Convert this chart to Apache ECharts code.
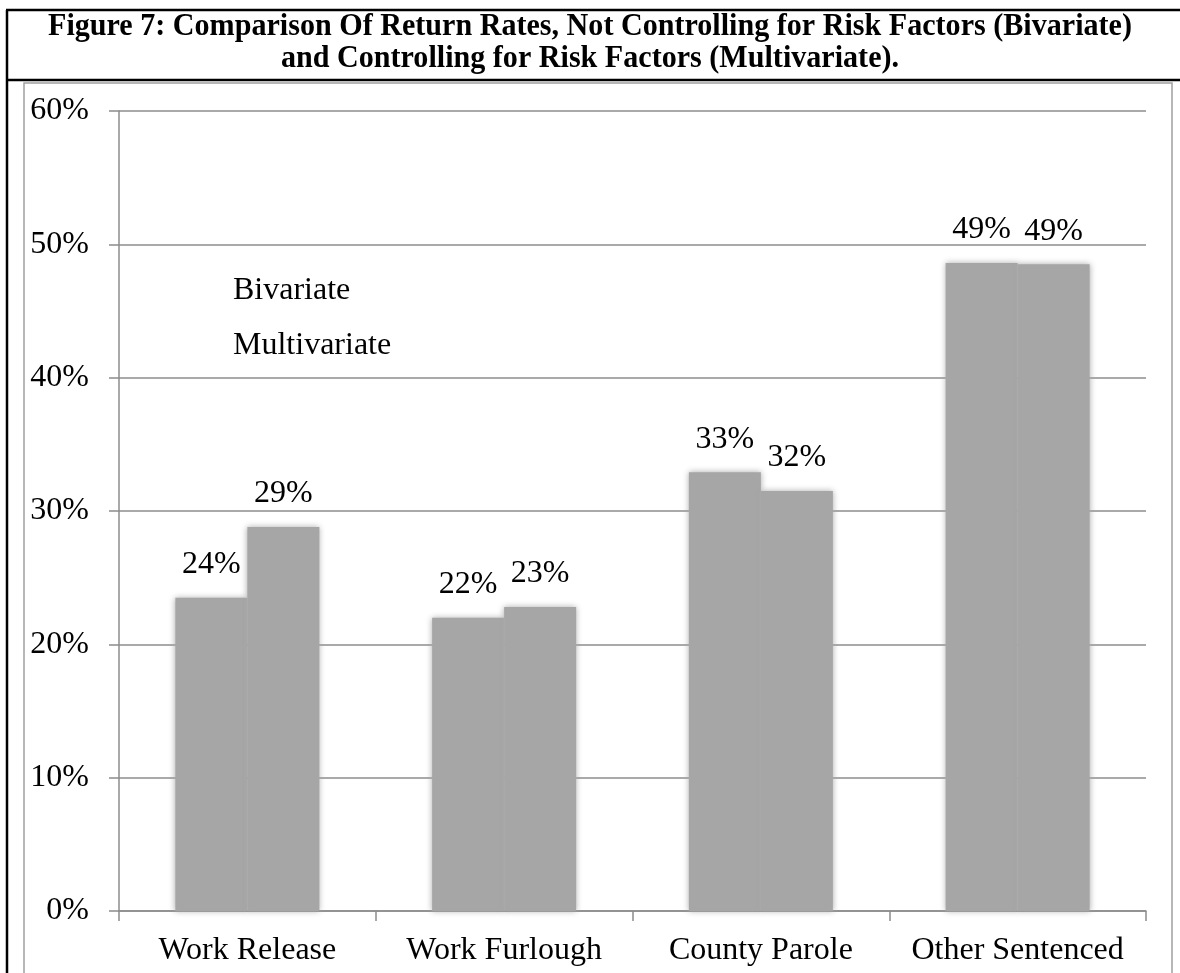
<!DOCTYPE html>
<html>
<head>
<meta charset="utf-8">
<script src="https://cdn.jsdelivr.net/npm/echarts@6/dist/echarts.min.js"></script>
<style>
  html, body { margin: 0; padding: 0; background: #fff; }
  #chart { width: 1180px; height: 973px; }
</style>
</head>
<body>
<div id="chart"></div>
<script>
// Return rates (%) by release type
const categories = ['Work Release', 'Work Furlough', 'County Parole', 'Other Sentenced'];
const bivariate = [23.5, 22.0, 32.9, 48.6];
const multivariate = [28.8, 22.8, 31.5, 48.5];
const seriesNames = ['Bivariate', 'Multivariate'];
const titleLines = [
  'Figure 7: Comparison Of Return Rates, Not Controlling for Risk Factors (Bivariate)',
  'and Controlling for Risk Factors (Multivariate).'
];

const SERIF = '"Liberation Serif", "Times New Roman", serif';
const BAR = '#a6a6a6';
const GRID = '#8c8c8c';

// Narrow the bold heading so the first line spans the frame
const ctx = document.createElement('canvas').getContext('2d');
const titleFont = 'bold 31px ' + SERIF;
ctx.font = titleFont;
const titleScale = 1084 / ctx.measureText(titleLines[0]).width;

const chart = echarts.init(document.getElementById('chart'), null, { renderer: 'canvas' });

const barItem = {
  color: BAR,
  shadowBlur: 6,
  shadowColor: 'rgba(166,166,166,0.95)'
};
const valueLabel = {
  show: true,
  position: 'top',
  distance: 17,
  color: '#000',
  fontFamily: SERIF,
  fontSize: 32,
  lineHeight: 32,
  formatter: p => Math.round(p.value) + '%'
};

chart.setOption({
  animation: false,
  backgroundColor: '#fff',
  textStyle: { fontFamily: SERIF },
  grid: { left: 119, right: 34, top: 111, bottom: 62, containLabel: false },
  legend: {
    data: seriesNames,
    orient: 'vertical',
    left: 223,
    top: 270,
    itemGap: 23,
    itemWidth: 0,
    itemHeight: 0,
    icon: 'rect',
    selectedMode: false,
    textStyle: { color: '#000', fontFamily: SERIF, fontSize: 32, lineHeight: 32 }
  },
  xAxis: {
    type: 'category',
    data: categories,
    axisLine: { lineStyle: { color: GRID, width: 1.5 } },
    axisTick: { show: true, length: 10, lineStyle: { color: GRID, width: 1.5 } },
    axisLabel: {
      interval: 0, hideOverlap: false,
      color: '#000', fontFamily: SERIF, fontSize: 32, lineHeight: 32, margin: 24
    }
  },
  yAxis: {
    type: 'value',
    min: 0,
    max: 60,
    interval: 10,
    axisLine: { show: true, lineStyle: { color: GRID, width: 1.5 } },
    axisTick: { show: true, length: 10, lineStyle: { color: GRID, width: 1.5 } },
    axisLabel: {
      color: '#000', fontFamily: SERIF, fontSize: 32, lineHeight: 32, margin: 30,
      formatter: v => v + '%'
    },
    splitLine: { show: true, lineStyle: { color: GRID, width: 1.5 } }
  },
  series: [
    {
      name: seriesNames[0], type: 'bar', data: bivariate,
      barWidth: 72, barGap: '0%',
      itemStyle: barItem, label: valueLabel
    },
    {
      name: seriesNames[1], type: 'bar', data: multivariate,
      barWidth: 72, barGap: '0%',
      itemStyle: barItem, label: valueLabel
    }
  ],
  graphic: [
    // outer figure frame and heading rule
    { type: 'line', shape: { x1: 7, y1: 10, x2: 7, y2: 973 }, style: { stroke: '#000', lineWidth: 2.5 }, silent: true },
    { type: 'line', shape: { x1: 6, y1: 10, x2: 1180, y2: 10 }, style: { stroke: '#000', lineWidth: 2.5 }, silent: true },
    { type: 'line', shape: { x1: 6, y1: 80, x2: 1180, y2: 80 }, style: { stroke: '#000', lineWidth: 2.5 }, silent: true },
    // chart area border
    { type: 'rect', shape: { x: 24, y: 83, width: 1148, height: 900 }, style: { fill: 'none', stroke: '#a0a0a0', lineWidth: 1.5 }, silent: true },
    // heading
    {
      type: 'text', x: 590, y: 27, scaleX: titleScale, silent: true,
      style: { text: titleLines[0], font: titleFont, fill: '#000', align: 'center', verticalAlign: 'middle' }
    },
    {
      type: 'text', x: 590, y: 59, scaleX: titleScale, silent: true,
      style: { text: titleLines[1], font: titleFont, fill: '#000', align: 'center', verticalAlign: 'middle' }
    }
  ]
});
</script>
</body>
</html>
